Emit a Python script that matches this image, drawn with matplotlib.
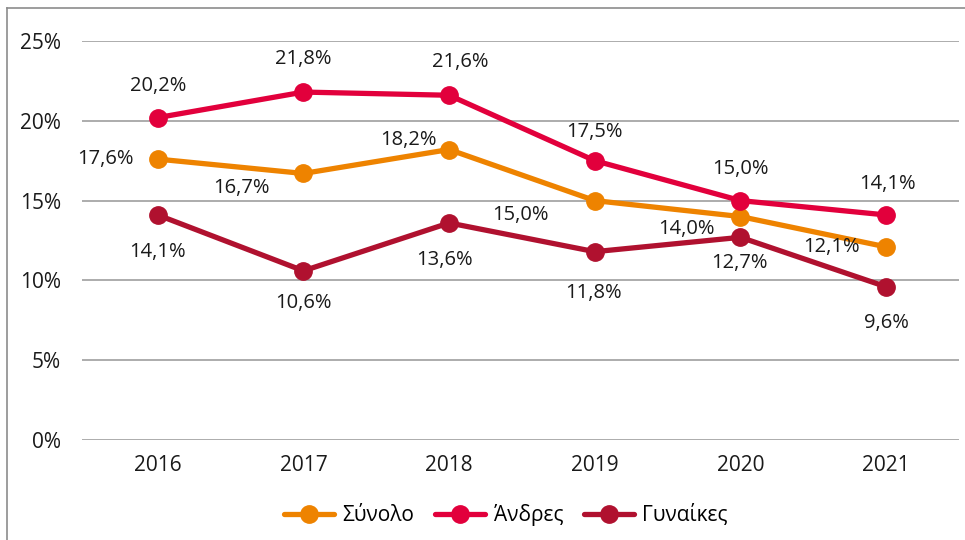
import matplotlib.pyplot as plt
from matplotlib.lines import Line2D

plt.rcParams['font.family'] = ['Open Sans', 'DejaVu Sans']

years = ['2016', '2017', '2018', '2019', '2020', '2021']
synolo = [17.6, 16.7, 18.2, 15.0, 14.0, 12.1]
andres = [20.2, 21.8, 21.6, 17.5, 15.0, 14.1]
gynaikes = [14.1, 10.6, 13.6, 11.8, 12.7, 9.6]
yticks = [0, 5, 10, 15, 20, 25]

# label offsets in pixels (dx, dy), per series
off_synolo = [(-52, 0), (-62, -15), (-41, 10), (-74, -14), (-54, -12), (-55, 0)]
off_andres = [(0, 32), (0, 33), (11, 33), (0, 29), (0, 32), (1, 31)]
off_gynaikes = [(0, -37), (0, -32), (-5, -37), (-1, -41), (-1, -26), (0, -36)]

fig = plt.figure(figsize=(9.65, 5.4), dpi=100)
ax = fig.add_axes([82 / 965, 100 / 540, 877 / 965, 399 / 540])

x = list(range(len(years)))
series = [
    ('Σύνολο', synolo, '#EE8300', off_synolo),
    ('Άνδρες', andres, '#E2003C', off_andres),
    ('Γυναίκες', gynaikes, '#B0112F', off_gynaikes),
]
for name, vals, col, offs in series:
    ax.plot(x, vals, color=col, lw=3.8, marker='o', ms=12.5, label=name,
            solid_capstyle='round')
    for xi, v, (dx, dy) in zip(x, vals, offs):
        ax.annotate(f'{v:.1f}%'.replace('.', ','), (xi, v),
                    xytext=(dx * 0.72, dy * 0.72), textcoords='offset points',
                    ha='center', va='center', fontsize=14.5, color='#1a1a1a')

ax.set_xlim(-0.52, 5.5)
ax.set_ylim(0, 25)
ax.set_yticks(yticks)
ax.set_yticklabels([f'{t}%' for t in yticks])
ax.set_xticks(x)
ax.set_xticklabels(years)
ax.tick_params(axis='both', length=0, labelsize=15, colors='#1a1a1a')
ax.tick_params(axis='y', pad=15)
ax.tick_params(axis='x', pad=11)
ax.grid(axis='y', color='#A6A6A6', lw=1.3)
ax.set_axisbelow(True)
for s in ax.spines.values():
    s.set_visible(False)

ax.legend(loc='center', bbox_to_anchor=((506 - 82) / 877, -(515 - 440) / 399),
          ncol=3, frameon=False, fontsize=15, handlelength=2.4,
          columnspacing=1.0, handletextpad=0.4)

# outer frame (only left and top visible)
fig.add_artist(Line2D([7 / 965, 7 / 965], [0, 1 - 8 / 540], color='#8C8C8C', lw=1.2))
fig.add_artist(Line2D([7 / 965, 1], [1 - 8 / 540, 1 - 8 / 540], color='#8C8C8C', lw=1.2))

fig.savefig('out.png', dpi=100)
